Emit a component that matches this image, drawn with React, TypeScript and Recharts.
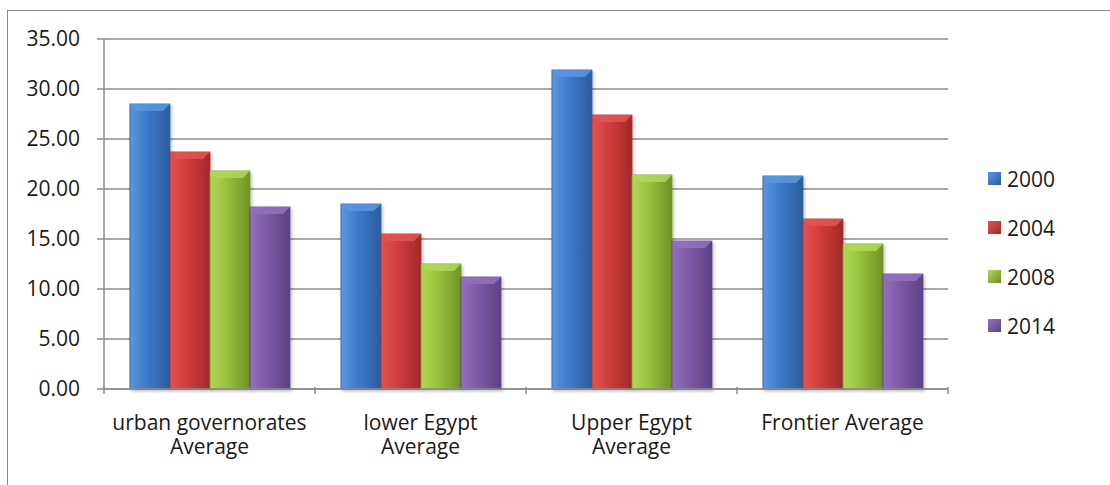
import React from 'react'
import { BarChart, Bar, XAxis, YAxis, CartesianGrid, Legend } from 'recharts'

const categories = [
  'urban governorates\nAverage',
  'lower Egypt\nAverage',
  'Upper Egypt\nAverage',
  'Frontier Average',
]
const years = ['2000', '2004', '2008', '2014']
const values2000 = [28.5, 18.5, 31.9, 21.3]
const values2004 = [23.7, 15.5, 27.4, 17.0]
const values2008 = [21.8, 12.5, 21.4, 14.5]
const values2014 = [18.2, 11.2, 14.8, 11.5]
const yTicks = [0, 5, 10, 15, 20, 25, 30, 35]

const seriesValues = [values2000, values2004, values2008, values2014]

// light, base, dark
const palette = [
  ['#5a97e0', '#3c78c9', '#2c5c9c'],
  ['#e45353', '#cf3b3b', '#a02a2a'],
  ['#b0d855', '#96c03d', '#6f9228'],
  ['#9272bd', '#7b58a6', '#5c4282'],
]

const data = categories.map((name, i) => {
  const row: any = { name }
  years.forEach((y, s) => {
    row[y] = seriesValues[s][i]
  })
  return row
})

const WIDTH = 1110
const HEIGHT = 485
const MARGIN = { top: 39, right: 62, bottom: 36, left: 0 }
const Y_AXIS_W = 104
const PLOT_W = WIDTH - MARGIN.left - MARGIN.right - Y_AXIS_W - 100
const HALF_BAND = PLOT_W / categories.length / 2
const FONT = '"Open Sans", sans-serif'

const BevelBar = (props: any) => {
  const { x, y, width, height } = props
  const s = props.seriesIndex
  if (!height || height <= 0) return null
  const b = Math.min(7, width / 4, height / 2)
  const c = palette[s]
  return (
    <g>
      <rect x={x} y={y} width={width} height={height} fill={`url(#grad-${s})`} stroke={c[2]} strokeWidth={0.8} filter="url(#shadow)" />
      <polygon
        points={`${x},${y} ${x + width},${y} ${x + width - b},${y + b} ${x + b},${y + b}`}
        fill={c[0]}
        opacity={0.85}
      />
    </g>
  )
}

const XTick = (props: any) => {
  const { x, y, payload, index } = props
  const lines = String(payload.value).split('\n')
  return (
    <g>
      {index === 0 && (
        <line x1={x - HALF_BAND} x2={x - HALF_BAND} y1={y - 10} y2={y - 3} stroke="#8c8c8c" strokeWidth={1.5} />
      )}
      <line x1={x + HALF_BAND} x2={x + HALF_BAND} y1={y - 10} y2={y - 3} stroke="#8c8c8c" strokeWidth={1.5} />
      {lines.map((l, i) => (
        <text key={i} x={x} y={y + 33 + i * 24} textAnchor="middle" fontFamily={FONT} fontSize={21} fill="#1a1a1a">
          {l}
        </text>
      ))}
    </g>
  )
}

const LegendContent = () => (
  <div style={{ fontFamily: FONT, fontSize: 21, color: '#1a1a1a' }}>
    {years.map((y, i) => (
      <div key={y} style={{ display: 'flex', alignItems: 'center', height: 49 }}>
        <span
          style={{
            display: 'inline-block',
            width: 13,
            height: 13,
            marginRight: 6,
            background: `linear-gradient(135deg, ${palette[i][0]}, ${palette[i][2]})`,
          }}
        />
        {y}
      </div>
    ))}
  </div>
)

export default function App() {
  return (
    <div style={{ position: 'absolute', left: 0, top: 0, width: WIDTH, height: HEIGHT, background: '#fff' }}>
      <div
        style={{
          position: 'absolute',
          left: 7,
          top: 10,
          right: 0,
          bottom: 0,
          borderTop: '1.5px solid #8a8a8a',
          borderLeft: '1.5px solid #8a8a8a',
        }}
      />
      <BarChart
        width={WIDTH}
        height={HEIGHT}
        data={data}
        margin={MARGIN}
        barCategoryGap="12.3%"
        barGap={0}
        style={{ position: 'absolute', left: 0, top: 0 }}
      >
        <defs>
          {palette.map((c, i) => (
            <linearGradient key={i} id={`grad-${i}`} x1="0" y1="0" x2="1" y2="0">
              <stop offset="0%" stopColor={c[0]} />
              <stop offset="45%" stopColor={c[1]} />
              <stop offset="100%" stopColor={c[2]} />
            </linearGradient>
          ))}
          <filter id="shadow" x="-20%" y="-5%" width="140%" height="115%">
            <feDropShadow dx="1.5" dy="2" stdDeviation="1.5" floodColor="#000" floodOpacity="0.25" />
          </filter>
        </defs>
        <CartesianGrid vertical={false} stroke="#8c8c8c" strokeWidth={1.5} />
        <XAxis
          dataKey="name"
          tickLine={false}
          axisLine={{ stroke: '#8c8c8c', strokeWidth: 1.5 }}
          tick={<XTick />}
          height={60}
          interval={0}
        />
        <YAxis
          width={Y_AXIS_W}
          domain={[0, 35]}
          ticks={yTicks}
          tickFormatter={(v: number) => v.toFixed(2)}
          tickSize={7}
          tickMargin={17}
          tickLine={{ stroke: '#8c8c8c', strokeWidth: 1.5 }}
          axisLine={{ stroke: '#8c8c8c', strokeWidth: 1.5 }}
          tick={{ fontFamily: FONT, fontSize: 21, fill: '#1a1a1a' }}
        />
        <Legend
          layout="vertical"
          align="right"
          verticalAlign="middle"
          width={100}
          content={<LegendContent />}
          wrapperStyle={{ left: 988, top: 154, right: 'auto' }}
        />
        {years.map((y, s) => (
          <Bar
            key={y}
            dataKey={y}
            isAnimationActive={false}
            shape={(p: any) => <BevelBar {...p} seriesIndex={s} />}
          />
        ))}
      </BarChart>
    </div>
  )
}
